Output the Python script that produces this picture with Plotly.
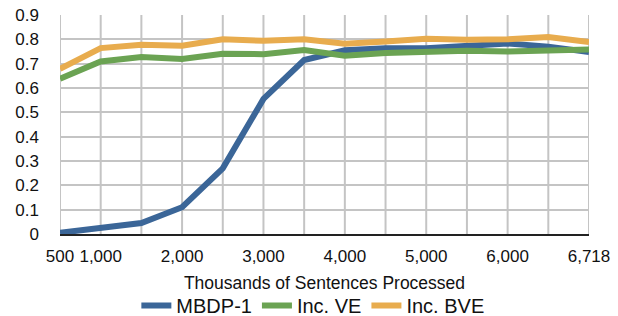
import plotly.graph_objects as go

categories = ["500", "1,000", "1,500", "2,000", "2,500", "3,000", "3,500",
              "4,000", "4,500", "5,000", "5,500", "6,000", "6,500", "6,718"]
shown_labels = ["500", "1,000", "2,000", "3,000", "4,000", "5,000", "6,000", "6,718"]

mbdp1 = [0.005, 0.025, 0.045, 0.11, 0.27, 0.555, 0.715, 0.755, 0.763, 0.763, 0.775, 0.783, 0.77, 0.748]
inc_ve = [0.638, 0.709, 0.727, 0.719, 0.741, 0.739, 0.756, 0.733, 0.744, 0.75, 0.753, 0.75, 0.757, 0.758]
inc_bve = [0.679, 0.764, 0.778, 0.774, 0.8, 0.794, 0.8, 0.782, 0.791, 0.802, 0.798, 0.8, 0.81, 0.789]

series = [
    ("MBDP-1", mbdp1, "#3B6698"),
    ("Inc. VE", inc_ve, "#6BA353"),
    ("Inc. BVE", inc_bve, "#E8AC4E"),
]

positions = list(range(len(categories)))
label_pos = [i for i, c in enumerate(categories) if c in shown_labels]

GRID = "#C4C4C4"

fig = go.Figure()
for name, vals, color in series:
    fig.add_trace(go.Scatter(x=positions, y=vals, name=name, mode="lines",
                             line=dict(color=color, width=6)))

# vertical grid lines, one per category position
for p in positions:
    fig.add_shape(type="line", xref="x", yref="paper", x0=p, x1=p, y0=0, y1=1,
                  line=dict(color=GRID, width=2), layer="below")

font_family = "Liberation Sans, Arial, Helvetica, sans-serif"
fig.update_layout(
    width=618, height=316,
    margin=dict(l=60, r=29, t=15, b=82, autoexpand=False),
    paper_bgcolor="white", plot_bgcolor="white",
    font=dict(family=font_family, size=17, color="#111111"),
    showlegend=True,
    legend=dict(orientation="h", x=0.478, xanchor="center",
                y=-0.327, yanchor="middle", font=dict(size=20),
                itemwidth=30),
    xaxis=dict(range=[0, len(categories) - 1], tickmode="array",
               tickvals=label_pos, ticktext=[categories[i] for i in label_pos],
               showgrid=False,
               zeroline=False,
               showline=True, linecolor="#222222", linewidth=2,
               ticks="", tickfont=dict(size=17), ticklabelstandoff=6,
               automargin=False,
               title=dict(text="Thousands of Sentences Processed",
                          font=dict(size=17.5), standoff=11)),
    yaxis=dict(range=[0, 0.9], dtick=0.1, tick0=0,
               showgrid=True, gridcolor=GRID, gridwidth=2,
               zeroline=False, showline=False, ticks="",
               automargin=False,
               ticklabelstandoff=20, tickfont=dict(size=17)),
)

fig.write_html("out.html", config={"displayModeBar": False},
               post_script="document.body.style.margin='0';")
